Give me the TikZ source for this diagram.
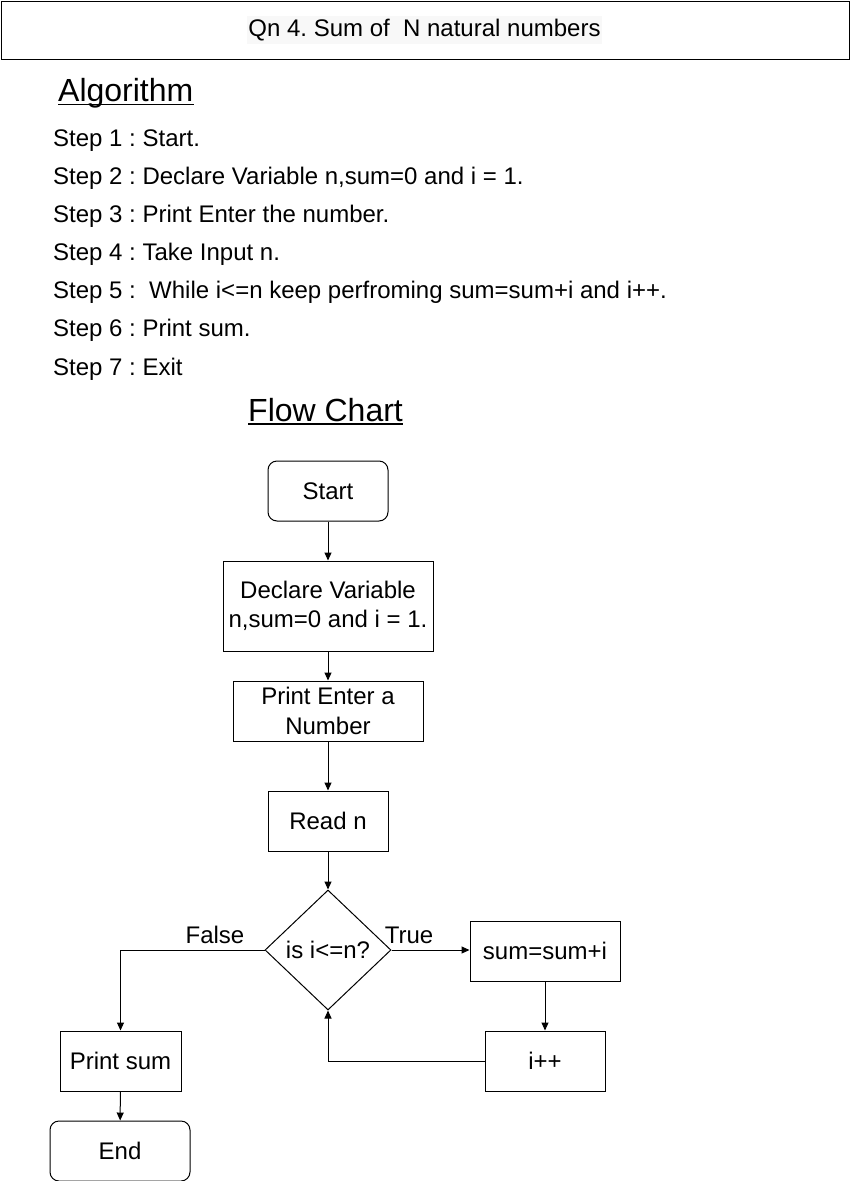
\documentclass[tikz,border=0pt]{standalone}
\usepackage{fontspec}
\setmainfont{Liberation Sans}
\frenchspacing
\usetikzlibrary{shapes.geometric,arrows.meta}
\definecolor{titlebg}{RGB}{248,248,248}
\tikzset{
  txt/.style={font=\fontsize{24}{29.5}\selectfont, inner sep=0pt},
  head/.style={font=\fontsize{32}{38}\selectfont, inner sep=0pt},
  box/.style={draw=black, line width=1pt, font=\fontsize{24}{29.5}\selectfont, align=center, inner sep=0pt},
  term/.style={box, rounded corners=9pt},
  dec/.style={draw=black, line width=1pt, diamond, font=\fontsize{24}{29.5}\selectfont, inner sep=0pt, minimum width=126pt, minimum height=120pt},
  conn/.style={draw=black, line width=1pt, -{Triangle[length=8pt,width=7pt]}},
  lbl/.style={font=\fontsize{24}{29.5}\selectfont, inner sep=0pt}
}
\begin{document}
\frenchspacing
\begin{tikzpicture}[x=1pt,y=-1pt]
\useasboundingbox (0,0) rectangle (851,1181);
% title
\node[draw=black, line width=1.3pt, minimum width=848pt, minimum height=58pt, inner sep=0pt] (titlebox) at (425.5,30.5) {};
\node[txt, fill=titlebg, inner ysep=3pt, inner xsep=1pt] (title) at (424.5,30) {Qn 4. Sum of \ N natural numbers};
% algorithm
\node[head, anchor=base west] (alg) at (58,101.5) {Algorithm};
\draw[line width=1.4pt] ([yshift=-3pt]alg.base west) -- ([yshift=-3pt]alg.base east);
\node[txt, anchor=base west] (s1) at (53,146) {Step 1 : Start.};
\node[txt, anchor=base west] (s2) at (53,184.2) {Step 2 : Declare Variable n,sum=0 and i = 1.};
\node[txt, anchor=base west] (s3) at (53,222.3) {Step 3 : Print Enter the number.};
\node[txt, anchor=base west] (s4) at (53,260.5) {Step 4 : Take Input n.};
\node[txt, anchor=base west] (s5) at (53,298.7) {Step 5 : \ While i<=n keep perfroming sum=sum+i and i++.};
\node[txt, anchor=base west] (s6) at (53,336.8) {Step 6 : Print sum.};
\node[txt, anchor=base west] (s7) at (53,375) {Step 7 : Exit};
% flow chart heading
\node[head, anchor=base west] (fc) at (248,421) {Flow Chart};
\draw[line width=1.4pt] ([yshift=-3pt]fc.base west) -- ([yshift=-3pt]fc.base east);
% nodes
\node[term, minimum width=120pt, minimum height=60pt] (start) at (328,491) {Start};
\node[box, minimum width=210pt, minimum height=90pt] (decl) at (328,606) {Declare Variable\\n,sum=0 and i = 1.};
\node[box, minimum width=190pt, minimum height=60pt] (print) at (328,711) {Print Enter a\\Number};
\node[box, minimum width=120pt, minimum height=60pt] (read) at (328,821) {Read n};
\node[dec] (cond) at (328,950) {is i<=n?};
\node[box, minimum width=150pt, minimum height=60pt] (sum) at (545,951) {sum=sum+i};
\node[box, minimum width=120pt, minimum height=60pt] (inc) at (545,1061) {i++};
\node[box, minimum width=121pt, minimum height=60pt] (psum) at (120.5,1061) {Print sum};
\node[term, minimum width=140pt, minimum height=60pt] (end) at (120,1151) {End};
% connectors
\draw[conn] (start) -- (decl);
\draw[conn] (decl) -- (print);
\draw[conn] (print) -- (read);
\draw[conn] (read) -- (cond);
\draw[conn] (cond.east) -- (sum.west |- cond.east);
\draw[conn] (cond.west) -| (psum.north);
\draw[conn] (sum) -- (inc);
\draw[conn] (inc.west) -| (cond.south);
\draw[conn] (psum) -- (end);
% labels
\node[lbl] (ltrue) at (409,935) {True};
\node[lbl] (lfalse) at (215,935) {False};
\end{tikzpicture}
\end{document}
